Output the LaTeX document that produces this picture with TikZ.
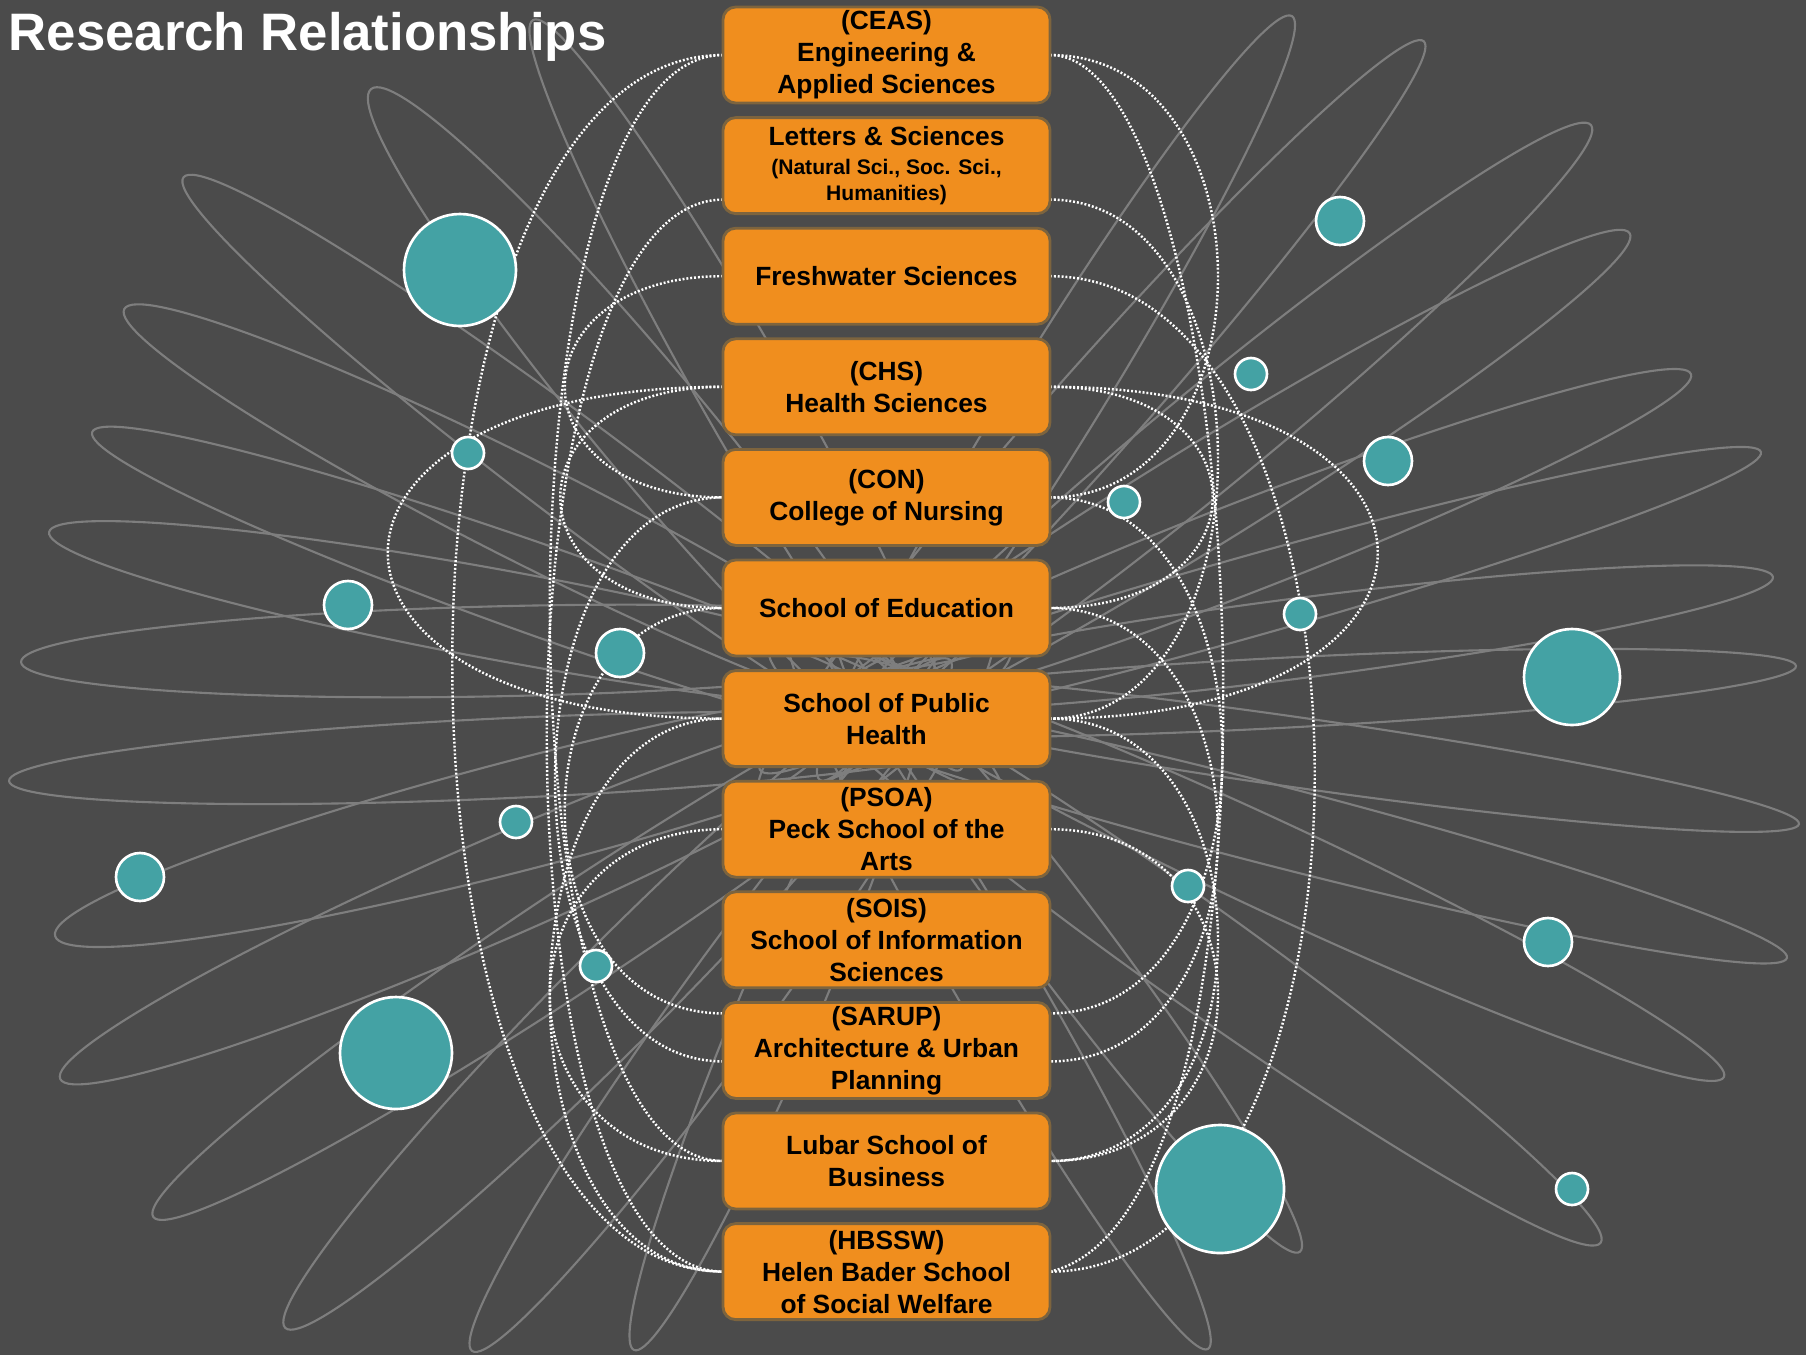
\documentclass[tikz,border=0pt]{standalone}
\usepackage{fontspec}
\setmainfont{Liberation Sans}
\usetikzlibrary{positioning}

\definecolor{slate}{RGB}{75,75,75}
\definecolor{orbitgray}{RGB}{126,126,126}
\definecolor{uwmorange}{RGB}{240,142,30}
\definecolor{boxrim}{RGB}{125,100,62}
\definecolor{planetteal}{RGB}{68,162,164}

\pgfdeclarelayer{orbits}
\pgfdeclarelayer{links}
\pgfsetlayers{orbits,links,main}

\newcommand\smalltext{\fontsize{6}{7.2}\selectfont}
% one thin orbit: inner end x, y, outer tip x, y, half width (all in px)
\newcommand\orbitpetal[5]{%
  \pgfmathsetmacro\petang{atan2(#4-#2,#3-#1)}%
  \pgfmathsetmacro\pethalf{veclen(#3-#1,#4-#2)/2}%
  \draw[orbit, shift={(#1,#2)}, rotate=-\petang] (\pethalf,0) ellipse ({\pethalf} and {#5});%
}

\tikzset{
  school/.style={draw=boxrim, line width=0.8pt, fill=uwmorange, rounded corners=3.6pt,
    minimum width=32.7mm, minimum height=9.6mm, inner sep=0pt, outer sep=0pt,
    align=center, font=\bfseries\fontsize{7.5}{9.1}\selectfont},
  orbit/.style={draw=orbitgray, line width=0.6pt},
  link/.style={draw=white, line width=0.7pt, dash pattern=on 0.55pt off 0.55pt},
  planet/.style={circle, draw=white, line width=0.75pt, fill=planetteal, inner sep=0pt},
}

\begin{document}
\begin{tikzpicture}[x=0.1mm, y=-0.1mm, node distance=1.46mm]
  \useasboundingbox (0,0) rectangle (1806,1355);

  % schools
  \node[school] (ceas) at (886.5,55) {(CEAS)\\Engineering \&\\Applied Sciences};
  \node[school, below=of ceas] (ls) {Letters \& Sciences\\[-0.75pt]{\smalltext (Natural Sci., Soc. Sci.,}\\[-1.9pt]{\smalltext Humanities)}};
  \node[school, below=of ls] (fresh) {Freshwater Sciences};
  \node[school, below=of fresh] (chs) {(CHS)\\Health Sciences};
  \node[school, below=of chs] (con) {(CON)\\College of Nursing};
  \node[school, below=of con] (soe) {School of Education};
  \node[school, below=of soe] (sph) {School of Public\\Health};
  \node[school, below=of sph] (psoa) {(PSOA)\\Peck School of the\\Arts};
  \node[school, below=of psoa] (sois) {(SOIS)\\School of Information\\Sciences};
  \node[school, below=of sois] (sarup) {(SARUP)\\Architecture \& Urban\\Planning};
  \node[school, below=of sarup] (lubar) {Lubar School of\\Business};
  \node[school, below=of lubar] (hbssw) {(HBSSW)\\Helen Bader School\\of Social Welfare};

  % planets
  \node[planet, minimum size=11.2mm] (pa) at (460,270) {};
  \node[planet, minimum size=3.2mm] (pb) at (468,453) {};
  \node[planet, minimum size=4.8mm] (pc) at (348,605) {};
  \node[planet, minimum size=4.8mm] (pd) at (620,653) {};
  \node[planet, minimum size=3.2mm] (pe) at (516,822) {};
  \node[planet, minimum size=4.8mm] (pf) at (140,877) {};
  \node[planet, minimum size=3.2mm] (pg) at (596,966) {};
  \node[planet, minimum size=11.2mm] (ph) at (396,1053) {};
  \node[planet, minimum size=4.8mm] (pi) at (1340,221) {};
  \node[planet, minimum size=3.2mm] (pj) at (1251,374) {};
  \node[planet, minimum size=4.8mm] (pk) at (1388,461) {};
  \node[planet, minimum size=3.2mm] (pl) at (1124,502) {};
  \node[planet, minimum size=3.2mm] (pm) at (1300,614) {};
  \node[planet, minimum size=9.6mm] (pn) at (1572,677) {};
  \node[planet, minimum size=3.2mm] (po) at (1188,886) {};
  \node[planet, minimum size=4.8mm] (pp) at (1548,942) {};
  \node[planet, minimum size=3.2mm] (pq) at (1572,1189) {};
  \node[planet, minimum size=12.8mm] (pr) at (1220,1189) {};

  \node[anchor=base west, inner sep=0pt, text=white, font=\bfseries\fontsize{15}{18}\selectfont] (title) at (8,50) {Research Relationships};

  \begin{pgfonlayer}{orbits}
    \fill[slate] (0,0) rectangle (1806,1355);
    % left orbits
    \orbitpetal{1010}{735}{9}{781}{40}
    \orbitpetal{1000}{640}{21}{662}{45}
    \orbitpetal{960}{700}{49}{532}{45}
    \orbitpetal{1020}{760}{92}{432}{45}
    \orbitpetal{940}{720}{124}{309}{50}
    \orbitpetal{1000}{790}{183}{177}{50}
    \orbitpetal{930}{760}{371}{89}{55}
    \orbitpetal{960}{770}{533}{20}{45}
    \orbitpetal{1000}{690}{55}{936}{55}
    \orbitpetal{930}{700}{60}{1079}{50}
    \orbitpetal{1010}{650}{153}{1217}{50}
    \orbitpetal{950}{660}{285}{1328}{50}
    \orbitpetal{990}{640}{472}{1351}{45}
    \orbitpetal{930}{650}{634}{1350}{40}
    % right orbits
    \orbitpetal{820}{780}{1292}{16}{45}
    \orbitpetal{760}{790}{1424}{41}{45}
    \orbitpetal{830}{750}{1591}{125}{50}
    \orbitpetal{760}{770}{1630}{233}{50}
    \orbitpetal{800}{720}{1691}{374}{45}
    \orbitpetal{740}{740}{1761}{452}{40}
    \orbitpetal{820}{700}{1773}{577}{40}
    \orbitpetal{760}{720}{1796}{666}{35}
    \orbitpetal{790}{680}{1799}{824}{35}
    \orbitpetal{750}{690}{1787}{958}{40}
    \orbitpetal{830}{660}{1724}{1077}{45}
    \orbitpetal{770}{650}{1601}{1243}{50}
    \orbitpetal{840}{640}{1300}{1252}{40}
    \orbitpetal{790}{630}{1208}{1349}{40}
  \end{pgfonlayer}

  \begin{pgfonlayer}{links}
    % west side
    \draw[link] (ceas.west) .. controls +(-361,0) and +(-361,0) .. (hbssw.west);
    \draw[link] (ceas.west) .. controls +(-231,0) and +(-231,0) .. (lubar.west);
    \draw[link] ([yshift=-3.4mm]ls.west) .. controls +(-235,0) and +(-235,0) .. (hbssw.west);
    \draw[link] (fresh.west) .. controls +(-211,0) and +(-211,0) .. (con.west);
    \draw[link] (chs.west) .. controls +(-447,0) and +(-447,0) .. (sph.west);
    \draw[link] (chs.west) .. controls +(-217,0) and +(-217,0) .. (soe.west);
    \draw[link] (con.west) .. controls +(-224,0) and +(-224,0) .. ([yshift=-1.1mm]sarup.west);
    \draw[link] (soe.west) .. controls +(-211,0) and +(-211,0) .. ([yshift=3.7mm]sarup.west);
    \draw[link] (sph.west) .. controls +(-231,0) and +(-231,0) .. (hbssw.west);
    \draw[link] (psoa.west) .. controls +(-231,0) and +(-231,0) .. (lubar.west);
    % east side
    \draw[link] (ceas.east) .. controls +(200,0) and +(260,-60) .. (hbssw.east);
    \draw[link] (ceas.east) .. controls +(224,0) and +(224,0) .. (con.east);
    \draw[link] ([yshift=-3.4mm]ls.east) .. controls +(224,0) and +(224,0) .. (sph.east);
    \draw[link] (fresh.east) .. controls +(353,0) and +(353,0) .. (hbssw.east);
    \draw[link] (chs.east) .. controls +(437,0) and +(437,0) .. (sph.east);
    \draw[link] (chs.east) .. controls +(217,0) and +(217,0) .. (soe.east);
    \draw[link] (con.east) .. controls +(230,0) and +(230,0) .. ([yshift=3.7mm]sarup.east);
    \draw[link] (soe.east) .. controls +(224,0) and +(224,0) .. ([yshift=-1.1mm]sarup.east);
    \draw[link] (sph.east) .. controls +(224,0) and +(224,0) .. (lubar.east);
    \draw[link] (psoa.east) .. controls +(224,0) and +(224,0) .. (lubar.east);
  \end{pgfonlayer}
\end{tikzpicture}
\end{document}
